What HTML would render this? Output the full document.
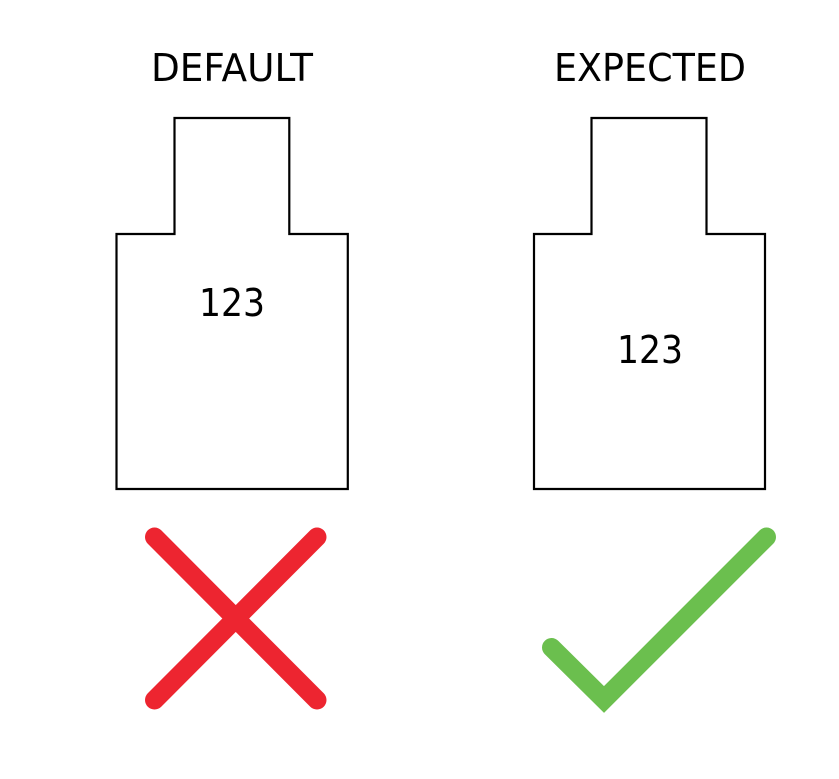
<!DOCTYPE html>
<html>
<head>
<meta charset="utf-8">
<style>
html,body{margin:0;padding:0;background:#fff;width:839px;height:779px;overflow:hidden}
svg{display:block}
text{font-family:"DejaVu Sans","Liberation Sans",sans-serif;fill:#000}
</style>
</head>
<body>
<svg width="839" height="779" viewBox="0 0 839 779" xmlns="http://www.w3.org/2000/svg">
<rect width="839" height="779" fill="#fff"/>
<text x="232" y="81" font-size="38" text-anchor="middle" textLength="162" lengthAdjust="spacingAndGlyphs">DEFAULT</text>
<text x="650" y="81" font-size="38" text-anchor="middle" textLength="192" lengthAdjust="spacingAndGlyphs">EXPECTED</text>
<path d="M174.500 118H289.300V234H347.800V489H116.500V234H174.500Z" fill="none" stroke="#000" stroke-width="2.2"/>
<path d="M591.500 118H706.500V234H765V489H534V234H591.500Z" fill="none" stroke="#000" stroke-width="2.2"/>
<text x="232" y="316" font-size="38" text-anchor="middle" textLength="66" lengthAdjust="spacingAndGlyphs">123</text>
<text x="650" y="363" font-size="38" text-anchor="middle" textLength="66" lengthAdjust="spacingAndGlyphs">123</text>
<path d="M154.500 537L317 700M317 537L154.500 700" fill="none" stroke="#ed2530" stroke-width="19" stroke-linecap="round"/>
<path d="M551.500 647.500L604 699.500L766.500 537" fill="none" stroke="#6bbf4e" stroke-width="19" stroke-linecap="round" stroke-linejoin="miter"/>
</svg>
</body>
</html>
